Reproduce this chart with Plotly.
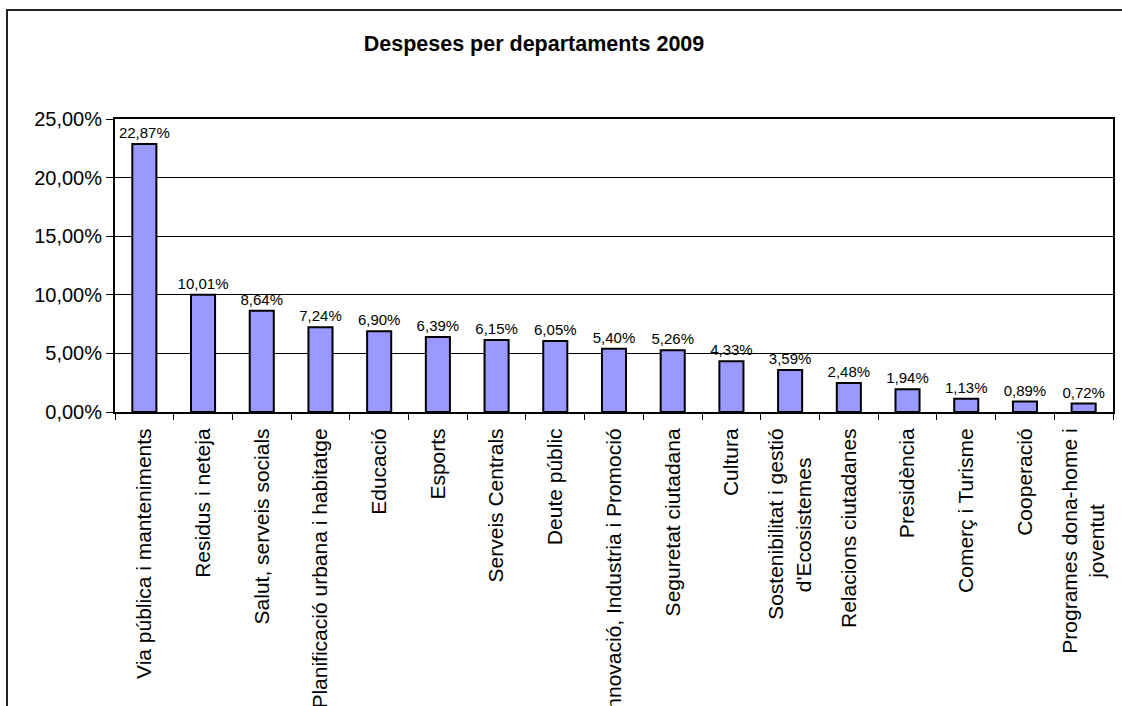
"""
Bar chart: Despeses per departaments 2009 (share of total spend per department).
"""

import plotly.graph_objects as go

NB = "\u00a0"

# Wrapped labels get trailing no-break spaces so the short second line sits
# centred under the first one, like the original spreadsheet chart.
DEPARTMENTS = [
    "Via pública i manteniments",
    "Residus i neteja",
    "Salut, serveis socials",
    "Planificació urbana i habitatge",
    "Educació",
    "Esports",
    "Serveis Centrals",
    "Deute públic",
    "Innovació, Industria i Promoció",
    "Seguretat ciutadana",
    "Cultura",
    "Sostenibilitat i gestió<br>d'Ecosistemes" + NB * 5,
    "Relacions ciutadanes",
    "Presidència",
    "Comerç i Turisme",
    "Cooperació",
    "Programes dona-home i<br>joventut" + NB * 13,
]
SHARE_PCT = [22.87, 10.01, 8.64, 7.24, 6.90, 6.39, 6.15, 6.05, 5.40, 5.26,
             4.33, 3.59, 2.48, 1.94, 1.13, 0.89, 0.72]

FONT = "Liberation Sans, Arial, sans-serif"

# Plot area in pixels (Excel-style layout)
W, H = 1122, 706
L, R, T, B = 115, 1113, 119, 412

share = [v / 100 for v in SHARE_PCT]
labels = [f"{v:.2f}%".replace(".", ",") for v in SHARE_PCT]

fig = go.Figure()
fig.add_trace(go.Bar(
    x=DEPARTMENTS, y=share,
    text=labels, textposition="outside", constraintext="none",
    textfont=dict(family=FONT, size=15, color="black"),
    cliponaxis=False,
    marker=dict(color="#9999FF", line=dict(color="black", width=2)),
))


def px_to_paper_x(px):
    return (px - L) / (R - L)


def px_to_paper_y(py):
    return (B - py) / (B - T)


# outer chart frame (right and bottom edges fall off the image)
fig.add_shape(
    type="rect", xref="paper", yref="paper",
    x0=px_to_paper_x(7), x1=px_to_paper_x(1140),
    y0=px_to_paper_y(760), y1=px_to_paper_y(10),
    line=dict(color="#222222", width=2),
)

fig.update_layout(
    width=W, height=H,
    margin=dict(l=L, r=W - R, t=T, b=H - B, autoexpand=False),
    paper_bgcolor="white", plot_bgcolor="white",
    separators=",.",
    showlegend=False,
    bargap=0.59,
    font=dict(family=FONT, size=21, color="black"),
    title=dict(
        text="<b>Despeses per departaments 2009</b>",
        font=dict(family=FONT, size=21.5, color="black"),
        xref="container", x=534 / W, xanchor="center",
        yref="container", y=1 - 43 / H, yanchor="middle",
    ),
)
fig.update_xaxes(
    type="category", tickangle=-90, automargin=False,
    tickson="boundaries", ticks="outside", ticklen=6, tickwidth=1,
    tickcolor="black", showline=True, linecolor="black", linewidth=2,
    mirror=True, showgrid=False, ticklabelstandoff=6,
    tickfont=dict(family=FONT, size=21, color="black"),
)
fig.update_yaxes(
    range=[0, 0.25], dtick=0.05, tickformat=".2%", automargin=False,
    ticks="outside", ticklen=7, tickwidth=1, tickcolor="black",
    showline=True, linecolor="black", linewidth=2, mirror=True,
    showgrid=True, gridcolor="black", gridwidth=1, zeroline=False,
    tickfont=dict(family=FONT, size=20, color="black"),
)

fig.write_html(
    "out.html",
    config={"displayModeBar": False},
    post_script="document.body.style.margin='0';document.body.style.overflow='hidden';",
)
